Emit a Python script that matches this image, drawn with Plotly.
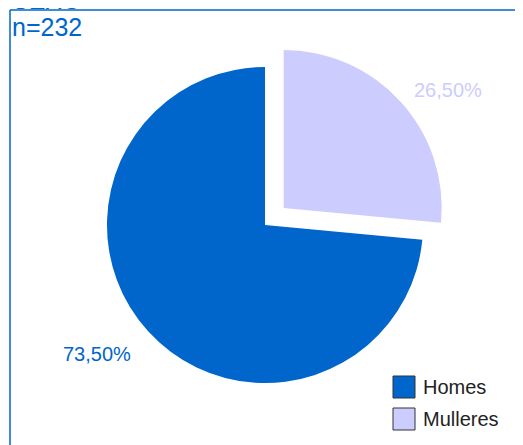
import plotly.graph_objects as go

W, H = 523, 445
OFF = 8  # browser default body margin

# ---- data ----
categories = ["Homes", "Mulleres"]
values = [73.5, 26.5]
colors = ["#0066CC", "#CCCCFF"]
pulls = [0, 0.16]
title_text = "SEXO"
subtitle_text = "n=232"

FONT = "Liberation Sans, Arial, sans-serif"


def px(x):
    return (x - OFF) / W


def py(y):
    return 1 - (y - OFF) / H


def fmt(v):
    return f"{v:.2f}".replace(".", ",") + "%"


fig = go.Figure()
# drawn from 12 o'clock clockwise: Mulleres first, then Homes
fig.add_trace(go.Pie(
    labels=categories[::-1],
    values=values[::-1],
    marker=dict(colors=colors[::-1], line=dict(width=0)),
    pull=pulls[::-1],
    sort=False,
    direction="clockwise",
    rotation=0,
    textinfo="none",
    hoverinfo="label+percent",
    showlegend=False,
    domain=dict(x=[px(81.7), px(448.3)], y=[py(408.3), py(41.7)]),
))

annotations = []
# titles
annotations.append(dict(text=title_text, x=px(10), y=py(0), xref="paper", yref="paper",
                        xanchor="left", yanchor="middle", showarrow=False,
                        font=dict(family=FONT, size=25, color="#0066CC")))
annotations.append(dict(text=subtitle_text, x=px(10), y=py(27), xref="paper", yref="paper",
                        xanchor="left", yanchor="middle", showarrow=False,
                        font=dict(family=FONT, size=25, color="#0066CC")))
# percentage labels
label_pos = [(97, 354), (448, 89.5)]
for v, c, (lx, ly) in zip(values, colors, label_pos):
    annotations.append(dict(text=fmt(v), x=px(lx), y=py(ly), xref="paper", yref="paper",
                            xanchor="center", yanchor="middle", showarrow=False,
                            font=dict(family=FONT, size=20, color=c)))

shapes = []
# frame lines (top and left)
shapes.append(dict(type="line", xref="paper", yref="paper", x0=px(10), x1=px(522),
                   y0=py(10), y1=py(10), line=dict(color="#0066CC", width=1.5)))
shapes.append(dict(type="line", xref="paper", yref="paper", x0=px(10), x1=px(10),
                   y0=py(10), y1=0, line=dict(color="#0066CC", width=1.5)))

# custom legend
leg_top = [376, 408]
for cat, c, t in zip(categories, colors, leg_top):
    shapes.append(dict(type="rect", xref="paper", yref="paper",
                       x0=px(393), x1=px(415), y0=py(t), y1=py(t + 22),
                       fillcolor=c, line=dict(color="#333333", width=1)))
    annotations.append(dict(text=cat, x=px(421), y=py(t + 11), xref="paper", yref="paper",
                            xanchor="left", yanchor="middle", showarrow=False,
                            font=dict(family=FONT, size=20, color="#222222")))

fig.update_layout(
    width=W, height=H, autosize=False,
    margin=dict(l=0, r=0, t=0, b=0),
    paper_bgcolor="white", plot_bgcolor="white",
    separators=",.",
    annotations=annotations,
    shapes=shapes,
    font=dict(family=FONT),
)

fig.write_html("out.html")
